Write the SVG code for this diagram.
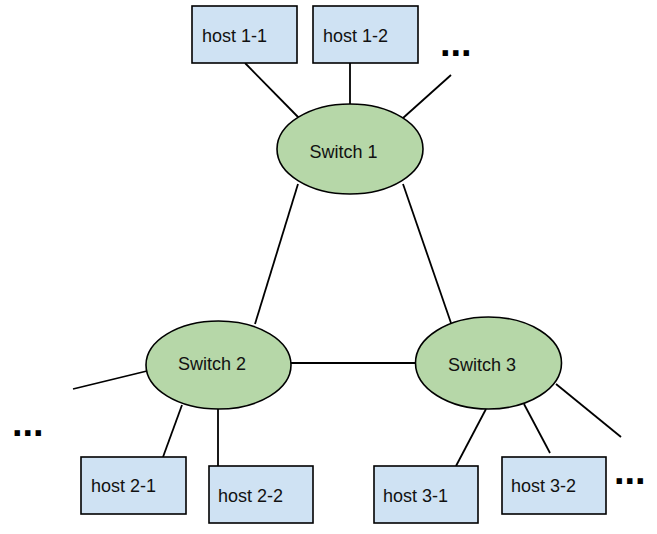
<svg xmlns="http://www.w3.org/2000/svg" width="657" height="534" viewBox="0 0 657 534">
<style>
.host{fill:#cfe2f3;stroke:#000;stroke-width:1.6}
.sw{fill:#b6d7a8;stroke:#000;stroke-width:1.6}
.lbl{font-family:"Liberation Sans",Arial,sans-serif;font-size:18px;fill:#111}
.dots{font-family:"Liberation Sans",Arial,sans-serif;font-size:38px;font-weight:bold;fill:#000}
#connectors line{stroke:#000;stroke-width:1.8}
</style>
<rect width="657" height="534" fill="#fff"/>
<g id="connectors">
<line x1="245" y1="63" x2="299" y2="118"/>
<line x1="350" y1="63" x2="350" y2="104"/>
<line x1="451" y1="75" x2="403" y2="118"/>
<line x1="298" y1="184" x2="255" y2="324"/>
<line x1="403" y1="184" x2="451" y2="323"/>
<line x1="291" y1="363" x2="416" y2="363"/>
<line x1="147" y1="371" x2="73" y2="389"/>
<line x1="182" y1="405" x2="163" y2="457"/>
<line x1="218" y1="409" x2="218" y2="466"/>
<line x1="486" y1="409" x2="456" y2="466"/>
<line x1="524" y1="404" x2="550" y2="453"/>
<line x1="556" y1="384" x2="621" y2="437"/>
</g>
<g id="switch1"><ellipse class="sw" cx="350" cy="149" rx="73" ry="45"/><text class="lbl" x="343.5" y="158" text-anchor="middle">Switch 1</text></g>
<g id="switch2"><ellipse class="sw" cx="218.5" cy="365" rx="72.5" ry="44"/><text class="lbl" x="212" y="370" text-anchor="middle">Switch 2</text></g>
<g id="switch3"><ellipse class="sw" cx="488.5" cy="363" rx="73" ry="46"/><text class="lbl" x="482" y="371" text-anchor="middle">Switch 3</text></g>
<g id="host1-1"><rect class="host" x="192" y="6" width="105" height="57"/><text class="lbl" x="202" y="42">host 1-1</text></g>
<g id="host1-2"><rect class="host" x="313" y="6" width="105" height="57"/><text class="lbl" x="323" y="42">host 1-2</text></g>
<g id="host2-1"><rect class="host" x="81" y="457" width="105" height="57"/><text class="lbl" x="91" y="492">host 2-1</text></g>
<g id="host2-2"><rect class="host" x="209" y="466" width="104" height="57"/><text class="lbl" x="218" y="502">host 2-2</text></g>
<g id="host3-1"><rect class="host" x="374" y="466" width="104" height="57"/><text class="lbl" x="383" y="502">host 3-1</text></g>
<g id="host3-2"><rect class="host" x="502" y="457" width="104" height="57"/><text class="lbl" x="511" y="492">host 3-2</text></g>
<text class="dots" x="440" y="56">...</text>
<text class="dots" x="12" y="436">...</text>
<text class="dots" x="614" y="484">...</text>
</svg>
